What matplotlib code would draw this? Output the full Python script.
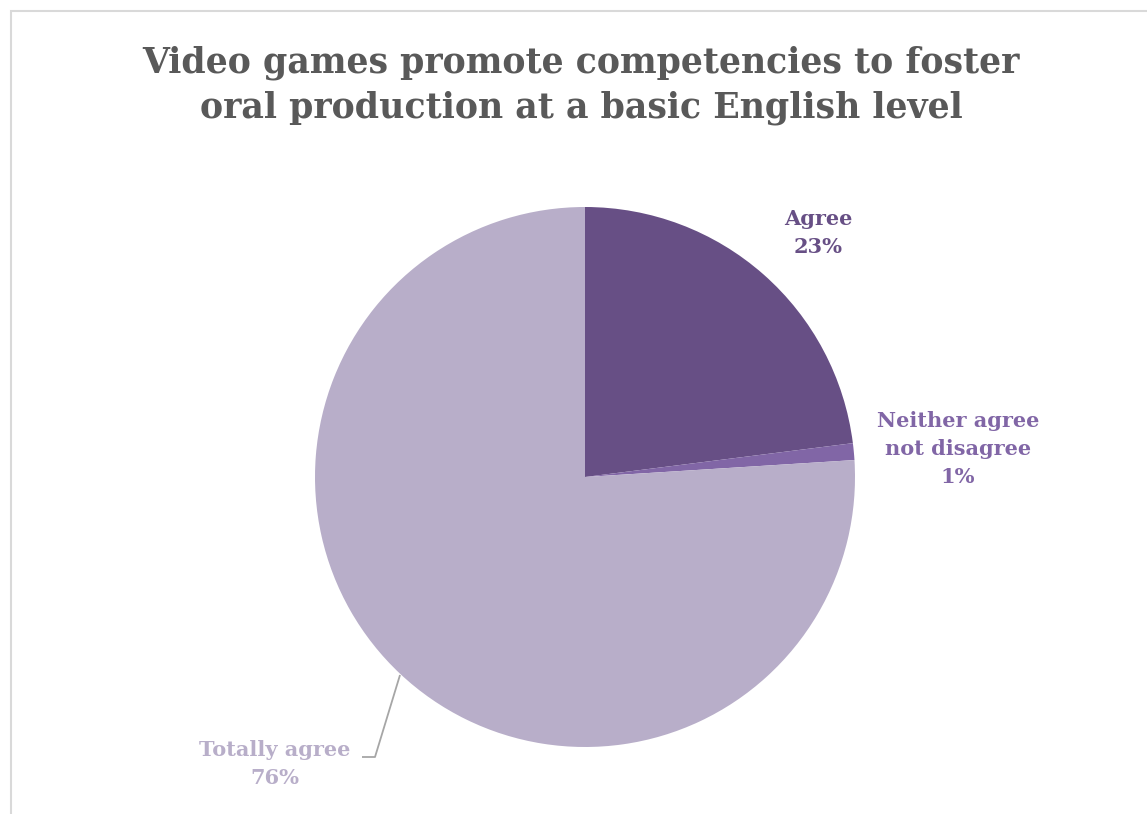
import matplotlib.pyplot as plt
from matplotlib.patches import Rectangle

# data
labels = ["Agree", "Neither agree\nnot disagree", "Totally agree"]
values = [23, 1, 76]
colors = ["#674f85", "#8166a6", "#b8aec9"]
label_colors = ["#674f85", "#8166a6", "#b8aec9"]
title = "Video games promote competencies to foster\noral production at a basic English level"

W, H = 1147, 814
fig = plt.figure(figsize=(W / 100, H / 100), dpi=100)
ax = fig.add_axes([0, 0, 1, 1])

# pixel coordinates, y measured from bottom
cx, cy, r = 585, H - 477, 270
wedges, _ = ax.pie(values, colors=colors, startangle=90, counterclock=False,
                   center=(cx, cy), radius=r, frame=True,
                   wedgeprops=dict(linewidth=0))

ax.set_xlim(0, W)
ax.set_ylim(0, H)
ax.set_aspect("equal")
ax.axis("off")

# chart border (light gray, running off the right and bottom)
ax.add_patch(Rectangle((10.5, -20), W + 40, H - 11 + 20, fill=False,
                       edgecolor="#d9d9d9", linewidth=1.5))

font = "DejaVu Serif"
ax.text(581, H - 85, title, ha="center", va="center", fontsize=25,
        fontweight="bold", color="#595959", family=font, linespacing=1.4)

pos = [(818, H - 233), (958, H - 449), (275, H - 764)]
for lab, v, p, c in zip(labels, values, pos, label_colors):
    ax.text(p[0], p[1], f"{lab}\n{v}%", ha="center", va="center",
            fontsize=15, fontweight="bold", color=c, family=font,
            linespacing=1.5)

# leader line for Totally agree
ax.plot([400, 375, 362], [H - 675, H - 757, H - 757], color="#a6a6a6",
        linewidth=1.3, solid_capstyle="butt")

fig.savefig("out.png", dpi=100)
